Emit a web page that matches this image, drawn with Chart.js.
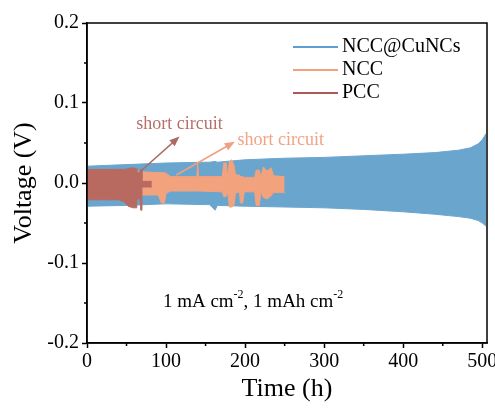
<!DOCTYPE html>
<html>
<head>
<meta charset="utf-8">
<script src="https://cdn.jsdelivr.net/npm/chart.js@4/dist/chart.umd.min.js"></script>
<style>
html, body { margin: 0; padding: 0; background: #fff; }
</style>
</head>
<body>
<canvas id="voltage_chart" width="495" height="413"></canvas>
<script>
const cunc_time  = [0, 50, 100, 150, 155, 162, 165, 200, 250, 300, 350, 400, 440, 470, 485, 495, 500, 505]
const cunc_upper = [0.021, 0.023, 0.025, 0.026, 0.026, 0.027, 0.026, 0.029, 0.031, 0.032, 0.034, 0.036, 0.038, 0.041, 0.044, 0.049, 0.054, 0.062]
const cunc_lower = [-0.029, -0.028, -0.026, -0.027, -0.027, -0.034, -0.028, -0.029, -0.030, -0.031, -0.033, -0.036, -0.039, -0.042, -0.044, -0.047, -0.050, -0.054]

const ncc_time  = [0, 68, 90, 94, 98, 100, 106, 139, 140, 141, 171, 173, 176, 178, 180, 183, 186, 188, 193, 194, 197, 199, 212, 214, 218, 220, 223, 228, 233, 236, 250]
const ncc_upper = [0.012, 0.014, 0.013, 0.013, 0.013, 0.012, 0.008, 0.008, 0.026, 0.008, 0.008, 0.025, 0.025, 0.008, 0.027, 0.029, 0.022, 0.010, 0.010, 0.008, 0.008, 0.007, 0.007, 0.016, 0.016, 0.007, 0.020, 0.015, 0.019, 0.009, 0.008]
const ncc_lower = [-0.014, -0.015, -0.015, -0.025, -0.025, -0.013, -0.010, -0.010, -0.010, -0.010, -0.011, -0.017, -0.017, -0.011, -0.030, -0.030, -0.028, -0.012, -0.012, -0.025, -0.025, -0.011, -0.011, -0.028, -0.028, -0.011, -0.018, -0.020, -0.016, -0.012, -0.012]

const pcc_time  = [0, 40, 48, 52, 58, 62, 63, 67, 68, 69, 69.5, 82]
const pcc_upper = [0.017, 0.017, 0.017, 0.018, 0.019, 0.018, 0.013, 0.013, 0.017, 0.017, 0.002, 0.002]
const pcc_lower = [-0.021, -0.021, -0.024, -0.029, -0.031, -0.031, -0.020, -0.020, -0.034, -0.034, -0.005, -0.005]

const x_ticks = [0, 100, 200, 300, 400, 500]
const x_minor = [50, 150, 250, 350, 450]
const y_ticks = [-0.2, -0.1, 0.0, 0.1, 0.2]
const y_minor = [-0.15, -0.05, 0.05, 0.15]

const series_names  = ['NCC@CuNCs', 'NCC', 'PCC']
const legend_colors = ['#5d9fd3', '#f3a07c', '#a85b57']

const serif = "'Liberation Serif', 'Times New Roman', serif"

function band_datasets(times, upper, lower, color) {
  const up = times.map((t, i) => ({x: t, y: upper[i]}))
  const low = times.map((t, i) => ({x: t, y: lower[i]}))
  return [
    {data: up, borderColor: color, borderWidth: 1, pointRadius: 0, fill: false, tension: 0},
    {data: low, borderColor: color, borderWidth: 1, pointRadius: 0, fill: '-1', backgroundColor: color, tension: 0}
  ]
}

function draw_arrow(ctx, x1, y1, x2, y2, color) {
  const ang = Math.atan2(y2 - y1, x2 - x1)
  ctx.save()
  ctx.strokeStyle = color
  ctx.fillStyle = color
  ctx.lineWidth = 1.5
  ctx.beginPath()
  ctx.moveTo(x1, y1)
  ctx.lineTo(x2 - 6 * Math.cos(ang), y2 - 6 * Math.sin(ang))
  ctx.stroke()
  ctx.beginPath()
  ctx.moveTo(x2, y2)
  ctx.lineTo(x2 - 10 * Math.cos(ang) + 4 * Math.sin(ang), y2 - 10 * Math.sin(ang) - 4 * Math.cos(ang))
  ctx.lineTo(x2 - 10 * Math.cos(ang) - 4 * Math.sin(ang), y2 - 10 * Math.sin(ang) + 4 * Math.cos(ang))
  ctx.closePath()
  ctx.fill()
  ctx.restore()
}

const extras_plugin = {
  id: 'extras',
  afterDraw(chart) {
    const ctx = chart.ctx
    const xs = chart.scales.x
    const ys = chart.scales.y
    const area = chart.chartArea

    // frame
    ctx.save()
    ctx.strokeStyle = '#000'
    ctx.lineWidth = 1.5
    ctx.strokeRect(area.left, area.top, area.right - area.left, area.bottom - area.top)

    // minor ticks
    ctx.lineWidth = 1.5
    ctx.beginPath()
    x_minor.forEach(v => {
      const px = xs.getPixelForValue(v)
      ctx.moveTo(px, area.bottom)
      ctx.lineTo(px, area.bottom + 3)
    })
    y_minor.forEach(v => {
      const py = ys.getPixelForValue(v)
      ctx.moveTo(area.left, py)
      ctx.lineTo(area.left - 3, py)
    })
    ctx.stroke()

    // legend
    ctx.font = '20px ' + serif
    ctx.textBaseline = 'middle'
    ctx.textAlign = 'left'
    series_names.forEach((name, i) => {
      const y = 47 + i * 23
      ctx.strokeStyle = legend_colors[i]
      ctx.lineWidth = 2
      ctx.beginPath()
      ctx.moveTo(293, y)
      ctx.lineTo(338, y)
      ctx.stroke()
      ctx.fillStyle = '#000'
      ctx.fillText(name, 342, y)
    })

    // short circuit notes
    ctx.font = '18px ' + serif
    ctx.textAlign = 'center'
    ctx.fillStyle = '#b7706a'
    ctx.fillText('short circuit', xs.getPixelForValue(117), ys.getPixelForValue(0.074))
    ctx.fillStyle = '#f0a385'
    ctx.fillText('short circuit', xs.getPixelForValue(245), ys.getPixelForValue(0.054))
    draw_arrow(ctx, xs.getPixelForValue(67), ys.getPixelForValue(0.014), xs.getPixelForValue(117), ys.getPixelForValue(0.058), '#ad6a63')
    draw_arrow(ctx, xs.getPixelForValue(113), ys.getPixelForValue(0.010), xs.getPixelForValue(187), ys.getPixelForValue(0.0515), '#f0a080')

    // current density note
    ctx.fillStyle = '#000'
    ctx.textAlign = 'left'
    let x = xs.getPixelForValue(96)
    const y = ys.getPixelForValue(-0.1485)
    const parts = [['1 mA cm', false], ['-2', true], [', 1 mAh cm', false], ['-2', true]]
    parts.forEach(([txt, sup]) => {
      ctx.font = (sup ? '12px ' : '19px ') + serif
      ctx.fillText(txt, x, sup ? y - 7 : y)
      x += ctx.measureText(txt).width
    })
    ctx.restore()
  }
}

const ctx = document.getElementById('voltage_chart').getContext('2d')

const chart = new Chart(ctx, {
  type: 'line',
  data: {
    datasets: [
      ...band_datasets(pcc_time, pcc_upper, pcc_lower, '#b96a60'),
      ...band_datasets(ncc_time, ncc_upper, ncc_lower, '#f2a27c'),
      ...band_datasets(cunc_time, cunc_upper, cunc_lower, '#6aa5ce')
    ]
  },
  options: {
    responsive: false,
    animation: false,
    layout: {padding: {top: 23, right: 8, left: 0, bottom: 0}},
    plugins: {
      legend: {display: false},
      tooltip: {enabled: false}
    },
    scales: {
      x: {
        type: 'linear',
        min: 0,
        max: 506,
        afterBuildTicks: s => { s.ticks = x_ticks.map(v => ({value: v})) },
        afterFit: s => { s.height = 70; s.paddingLeft = 0; s.paddingRight = 0 },
        grid: {display: true, drawOnChartArea: false, drawTicks: true, tickLength: 5, tickWidth: 1.5, color: '#000'},
        border: {display: true, color: '#000', width: 1.5},
        ticks: {color: '#000', padding: 2, maxRotation: 0, font: {family: serif, size: 20}},
        title: {display: true, text: 'Time (h)', color: '#000', font: {family: serif, size: 26}, padding: {top: 0, bottom: 8}}
      },
      y: {
        min: -0.2,
        max: 0.2,
        afterBuildTicks: s => { s.ticks = y_ticks.map(v => ({value: v})) },
        afterFit: s => { s.width = 87 },
        grid: {display: true, drawOnChartArea: false, drawTicks: true, tickLength: 5, tickWidth: 1.5, color: '#000'},
        border: {display: true, color: '#000', width: 1.5},
        ticks: {color: '#000', padding: 3, font: {family: serif, size: 20}, callback: v => v.toFixed(1)},
        title: {display: true, text: 'Voltage (V)', color: '#000', font: {family: serif, size: 26}, padding: {top: 9, bottom: 0}}
      }
    }
  },
  plugins: [extras_plugin]
})
</script>
</body>
</html>
